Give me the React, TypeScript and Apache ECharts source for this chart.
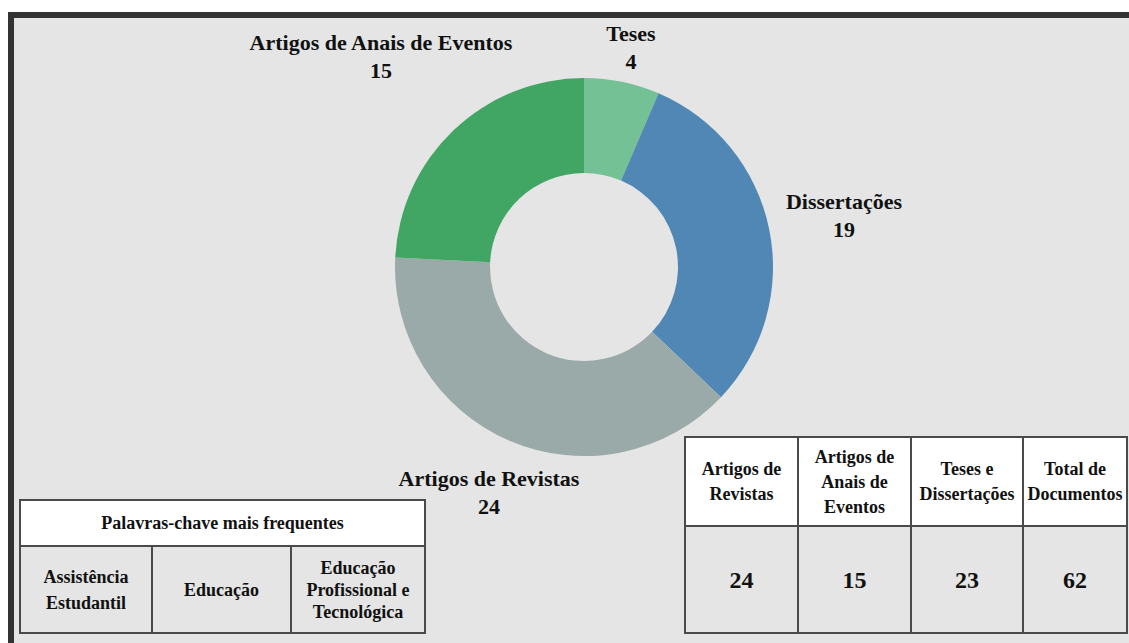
import React, { useEffect, useRef } from "react";
import * as echarts from "echarts";

const categories = ["Teses", "Dissertações", "Artigos de Revistas", "Artigos de Anais de Eventos"];
const values = [4, 19, 24, 15];
const colors = ["#74c196", "#5087b4", "#9aaaa8", "#41a663"];
const labelPositions = [
  [631, 47],
  [844, 215],
  [489, 492],
  [381, 56],
];

const keywordTitle = "Palavras-chave mais frequentes";
const keywords = ["Assistência\nEstudantil", "Educação", "Educação\nProfissional e\nTecnológica"];

const summaryHeaders = ["Artigos de\nRevistas", "Artigos de\nAnais de\nEventos", "Teses e\nDissertações", "Total de\nDocumentos"];
const summaryValues = [24, 15, 23, 62];

const FONT = "'Liberation Serif', 'Times New Roman', serif";
const BORDER = "#4a4a4a";
const GREY = "#e4e5e4";

function cell(x: number, y: number, w: number, h: number, fill: string, text: string, fontSize: number, lineHeight: number) {
  return {
    type: "group",
    children: [
      { type: "rect", shape: { x, y, width: w, height: h }, style: { fill, stroke: BORDER, lineWidth: 2 } },
      {
        type: "text",
        x: x + w / 2,
        y: y + h / 2,
        style: {
          text,
          fill: "#111",
          font: `bold ${fontSize}px ${FONT}`,
          fontSize,
          fontWeight: "bold",
          fontFamily: FONT,
          lineHeight,
          align: "center",
          verticalAlign: "middle",
        },
      },
    ],
  };
}

export default function App() {
  const ref = useRef<HTMLDivElement>(null);
  useEffect(() => {
    if (!ref.current) return;
    const chart = echarts.init(ref.current, null, { renderer: "svg" });

    const leftCols = [20, 152, 291, 425];
    const rightCols = [685, 798, 911, 1023, 1127];

    const graphics: any[] = [
      { type: "rect", shape: { x: 8, y: 12, width: 1121, height: 631 }, style: { fill: "#333333" }, z: -10 },
      { type: "rect", shape: { x: 14, y: 18, width: 1115, height: 625 }, style: { fill: GREY }, z: -9 },
      cell(leftCols[0], 500, leftCols[3] - leftCols[0], 46, "#ffffff", keywordTitle, 18, 22),
    ];
    keywords.forEach((k, i) => {
      graphics.push(cell(leftCols[i], 546, leftCols[i + 1] - leftCols[i], 87, GREY, k, 18, i === 2 ? 22 : 26));
    });
    summaryHeaders.forEach((h, i) => {
      graphics.push(cell(rightCols[i], 437, rightCols[i + 1] - rightCols[i], 89, "#ffffff", h, 18, 25));
      graphics.push(cell(rightCols[i], 526, rightCols[i + 1] - rightCols[i], 107, GREY, String(summaryValues[i]), 24, 28));
    });

    chart.setOption({
      animation: false,
      backgroundColor: "#ffffff",
      graphic: { elements: graphics },
      series: [
        {
          type: "pie",
          center: [584, 267],
          radius: [94, 189],
          startAngle: 90,
          clockwise: true,
          silent: true,
          z: 5,
          data: categories.map((c, i) => ({ name: c, value: values[i], itemStyle: { color: colors[i] } })),
          label: {
            show: true,
            position: "outside",
            formatter: "{b}\n{c}",
            fontFamily: FONT,
            fontWeight: "bold",
            fontSize: 22,
            lineHeight: 28,
            color: "#111",
            align: "center",
          },
          labelLine: { show: false },
          labelLayout: (params: any) => ({
            x: labelPositions[params.dataIndex][0],
            y: labelPositions[params.dataIndex][1],
            align: "center",
            verticalAlign: "middle",
          }),
        },
      ],
    });
    return () => chart.dispose();
  }, []);
  return <div ref={ref} style={{ position: "fixed", left: 0, top: 0, width: 1129, height: 643 }} />;
}
